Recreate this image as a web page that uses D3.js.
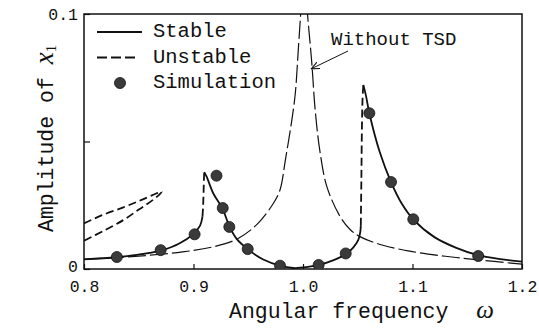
<!DOCTYPE html>
<html>
<head>
<meta charset="utf-8">
<script src="https://d3js.org/d3.v7.min.js"></script>
<style>
  body { margin: 0; background: #fff; }
  text { font-family: "Liberation Mono", "Courier New", monospace; fill: #111; }
</style>
</head>
<body>
<div id="chart"></div>
<script>

    // values: [omega, amplitude]
    const stableLower = [[0.80, 0.0038], [0.83, 0.0046], [0.86, 0.0063], [0.87, 0.0072], [0.887, 0.0100],
        [0.90, 0.0138], [0.906, 0.0170], [0.9082, 0.0205]];
    const unstableLeft = [[0.9082, 0.0205], [0.9088, 0.025], [0.9092, 0.030], [0.9095, 0.035], [0.9098, 0.0380]];
    const stableMiddle = [[0.9098, 0.0380], [0.912, 0.0362], [0.918, 0.0297], [0.9267, 0.0235], [0.9327, 0.0168],
        [0.9394, 0.0118], [0.9495, 0.0078], [0.9637, 0.0037], [0.979, 0.0013], [0.991, 0.0004],
        [1.003, 0.0007], [1.0143, 0.0016], [1.028, 0.0035], [1.040, 0.0061], [1.046, 0.0085],
        [1.0505, 0.0114], [1.0523, 0.0145], [1.0528, 0.0170]];
    const unstableRight = [[1.0528, 0.0170], [1.0533, 0.035], [1.0538, 0.055], [1.0544, 0.067], [1.0551, 0.0722]];
    const stableUpper = [[1.0551, 0.0722], [1.0575, 0.0680], [1.0606, 0.0611], [1.070, 0.0460], [1.0804, 0.0341],
        [1.090, 0.0258], [1.1007, 0.0195], [1.12, 0.0125], [1.14, 0.0083], [1.16, 0.0054],
        [1.18, 0.0039], [1.20, 0.0029]];
    const unstableLoop = [[0.800, 0.0179], [0.816, 0.0210], [0.836, 0.0242], [0.852, 0.0270], [0.866, 0.0296],
        [0.871, 0.0303], [0.869, 0.0293], [0.863, 0.0271], [0.850, 0.0233], [0.836, 0.0192],
        [0.818, 0.0150], [0.800, 0.0111]];
    const withoutTSD = [[0.80, 0.0039], [0.83, 0.0045], [0.86, 0.0054], [0.89, 0.0067], [0.918, 0.0087],
        [0.94, 0.0118], [0.958, 0.0175], [0.973, 0.0258], [0.979, 0.031], [0.984, 0.043],
        [0.990, 0.059], [0.993, 0.069], [0.996, 0.088], [0.9985, 0.104]];
    const withoutTSDRight = [[1.0035, 0.104], [1.0043, 0.099], [1.008, 0.081], [1.011, 0.063], [1.0155, 0.046],
        [1.022, 0.032], [1.034, 0.0205], [1.043, 0.0155], [1.052, 0.0127], [1.073, 0.0093],
        [1.10, 0.0068], [1.13, 0.0050], [1.16, 0.0036], [1.20, 0.0019]];
    const simulation = [[0.830, 0.0047], [0.870, 0.0074], [0.901, 0.0136], [0.921, 0.0366], [0.9267, 0.0239],
        [0.9327, 0.0165], [0.9495, 0.0078], [0.979, 0.0013], [1.0143, 0.0016], [1.039, 0.0061],
        [1.0606, 0.0611], [1.0804, 0.0341], [1.1007, 0.0195], [1.160, 0.0051]];

    const xTicks = [0.8, 0.9, 1.0, 1.1, 1.2];
    const yTicks = [0, 0.05, 0.1];
    const yTickLabels = ["0", "", "0.1"];
    const legendLabels = ["Stable", "Unstable", "Simulation"];

    let margin = {top: 14, right: 17, bottom: 61, left: 84},
        width = 539 - margin.left - margin.right,
        height = 330 - margin.top - margin.bottom;

    var svg = d3.select("#chart")
        .append("svg")
            .attr("width", 539)
            .attr("height", 330)
        .append("g")
            .attr("transform", "translate(" + margin.left + "," + margin.top + ")");

    var x = d3.scaleLinear().domain([0.8, 1.2]).range([0, width]),
        y = d3.scaleLinear().domain([0, 0.1]).range([height, 0]);

    svg.append("clipPath").attr("id", "clip")
        .append("rect").attr("width", width).attr("height", height);

    // x axis, ticks inside
    var gx = svg.append("g")
        .attr("transform", "translate(0," + height + ")")
        .call(d3.axisBottom(x).tickValues(xTicks).tickFormat(d3.format(".1f")).tickSize(-5).tickPadding(11));
    gx.select(".domain").remove();
    gx.selectAll("text").style("font-size", "16.5px").attr("fill", "#111");

    var gy = svg.append("g")
        .call(d3.axisLeft(y).tickValues(yTicks).tickFormat((d, i) => yTickLabels[i]).tickSize(-6).tickPadding(6));
    gy.select(".domain").remove();
    gy.selectAll("text").style("font-size", "16.5px").attr("fill", "#111")
        .attr("dy", d => d === 0 ? "0.18em" : "0.32em");
    svg.selectAll(".tick line").attr("stroke", "#111").attr("stroke-width", 1.2);

    // frame
    svg.append("rect")
        .attr("width", width).attr("height", height)
        .attr("fill", "none").attr("stroke", "#111").attr("stroke-width", 1.5);

    var line = d3.line()
        .x(d => x(d[0]))
        .y(d => y(d[1]))
        .curve(d3.curveCatmullRom.alpha(0.5));

    var plot = svg.append("g").attr("clip-path", "url(#clip)");

    // response without TSD
    [withoutTSD, withoutTSDRight].forEach(function(s) {
        plot.append("path").attr("d", line(s))
            .attr("fill", "none").attr("stroke", "#111").attr("stroke-width", 1.2)
            .attr("stroke-dasharray", "18,4");
    });

    [stableLower, stableMiddle, stableUpper].forEach(function(s) {
        plot.append("path").attr("d", line(s))
            .attr("fill", "none").attr("stroke", "#111").attr("stroke-width", 1.8);
    });

    [unstableLeft, unstableRight, unstableLoop].forEach(function(s) {
        plot.append("path").attr("d", line(s))
            .attr("fill", "none").attr("stroke", "#111").attr("stroke-width", 1.8)
            .attr("stroke-dasharray", "8,4");
    });

    plot.selectAll("circle.sim")
        .data(simulation)
        .enter()
        .append("circle")
        .attr("class", "sim")
        .attr("cx", d => x(d[0]))
        .attr("cy", d => y(d[1]))
        .attr("r", 5.5)
        .style("fill", "#3a3a3a")
        .style("stroke", "#111")
        .style("stroke-width", 0.8);

    // legend
    var legend = svg.append("g").attr("transform", "translate(13,18)");
    legend.append("line").attr("x1", 0).attr("x2", 45).attr("y1", 0).attr("y2", 0)
        .attr("stroke", "#111").attr("stroke-width", 1.8);
    legend.append("line").attr("x1", 0).attr("x2", 42).attr("y1", 25.5).attr("y2", 25.5)
        .attr("stroke", "#111").attr("stroke-width", 1.8).attr("stroke-dasharray", "10,4");
    legend.append("circle").attr("cx", 23).attr("cy", 51).attr("r", 5.5)
        .style("fill", "#3a3a3a").style("stroke", "#111").style("stroke-width", 0.8);
    legend.selectAll("text.leg")
        .data(legendLabels)
        .enter()
        .append("text")
        .attr("class", "leg")
        .attr("x", 56)
        .attr("y", (d, i) => 5 + i * 25.5)
        .style("font-size", "20.5px")
        .text(d => d);

    // annotation
    svg.append("defs").append("marker")
        .attr("id", "arrow").attr("viewBox", "0 0 10 10")
        .attr("refX", 9).attr("refY", 5)
        .attr("markerWidth", 9).attr("markerHeight", 9)
        .attr("orient", "auto")
        .append("path").attr("d", "M0,1 L9,5 L0,9")
        .attr("fill", "none").attr("stroke", "#111").attr("stroke-width", 1.2);

    svg.append("line")
        .attr("x1", x(1.0) + 45).attr("y1", 37)
        .attr("x2", x(1.0075)).attr("y2", y(0.0785))
        .attr("stroke", "#111").attr("stroke-width", 1)
        .attr("marker-end", "url(#arrow)");

    svg.append("text")
        .attr("x", x(1.0) + 28).attr("y", 31)
        .style("font-size", "19px")
        .text("Without TSD");

    // axis titles
    var xt = svg.append("text")
        .attr("x", 145).attr("y", height + 49)
        .style("font-size", "21.5px");
    xt.append("tspan").text("Angular frequency");
    xt.append("tspan").attr("dx", 28)
        .style("font-family", "'Liberation Serif', serif").style("font-style", "italic")
        .style("font-size", "25px").text("ω");

    var yt = svg.append("text")
        .attr("transform", "translate(-31," + (height - 37) + ") rotate(-90)")
        .style("font-size", "21.5px");
    yt.append("tspan").text("Amplitude of ");
    yt.append("tspan")
        .style("font-family", "'Liberation Serif', serif").style("font-style", "italic")
        .style("font-size", "27px").text("x");
    yt.append("tspan").attr("dy", 3)
        .style("font-family", "'Liberation Serif', serif")
        .style("font-size", "15px").text("1");

</script>
</body>
</html>
